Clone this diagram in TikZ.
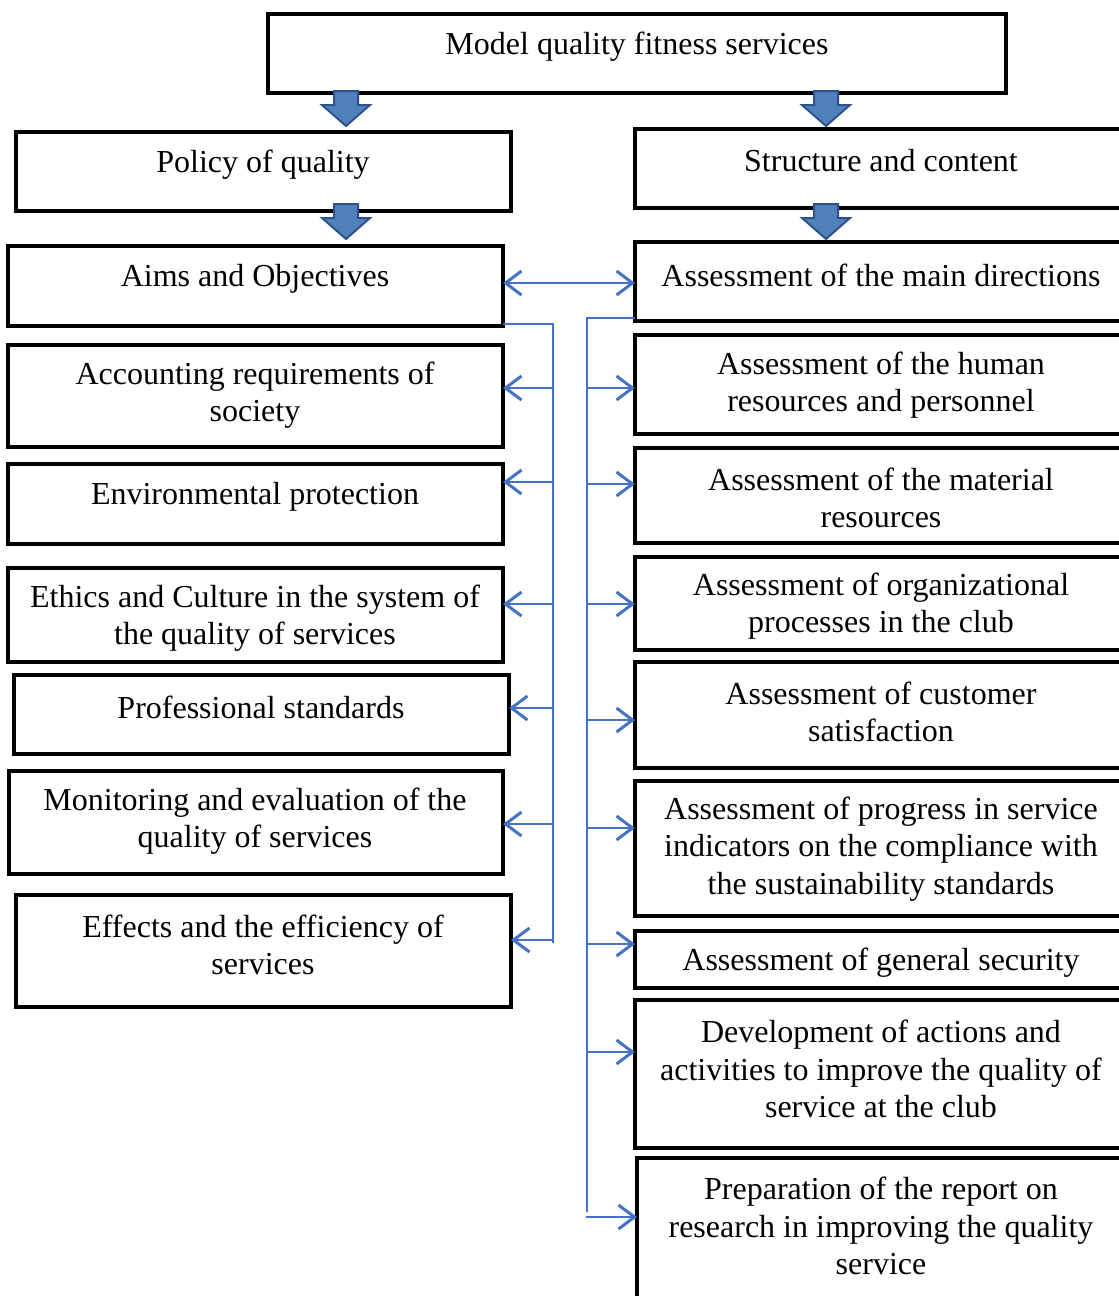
\documentclass[tikz,border=0pt]{standalone}
\usepackage{fontspec}
\setmainfont{Liberation Serif}
\usetikzlibrary{arrows.meta}
\definecolor{conn}{RGB}{68,114,196}
\definecolor{bafill}{RGB}{79,129,189}
\definecolor{baedge}{RGB}{47,82,143}
\tikzset{
  box/.style={draw=black, line width=4.5pt, inner sep=0pt, outer sep=0pt},
  txt/.style={align=center, font=\fontsize{32}{37.5}\selectfont, inner sep=0pt},
  link/.style={draw=conn, line width=2.5pt},
  barb/.style={Straight Barb[length=16pt,width=24pt,line width=3pt]},
  linkarrow/.style={draw=conn, line width=2.6pt, -{Straight Barb[length=16pt,width=24pt,line width=3pt]}},
  dblarrow/.style={draw=conn, line width=2.6pt, {Straight Barb[length=16pt,width=24pt,line width=3pt]}-{Straight Barb[length=16pt,width=24pt,line width=3pt]}},
  downarrow/.pic={
    \path[fill=bafill, draw=baedge, line width=2pt, line join=miter]
      (-12,0) -- (12,0) -- (12,14) -- (24,14) -- (0,35) -- (-24,14) -- (-12,14) -- cycle;
  }
}
\newcommand{\mkbox}[5]{% name, x1, y1, x2, y2
  \node[box, minimum width={(#4-#2)*1pt}, minimum height={(#5-#3)*1pt}, anchor=north west] (#1) at (#2,#3) {};}
\begin{document}
\begin{tikzpicture}[x=1pt, y=-1pt]
\useasboundingbox[fill=white] (0,0) rectangle (1119,1296);

% boxes
\mkbox{top}{268}{14}{1006}{93}
\mkbox{policy}{16}{132}{511}{211}
\mkbox{struct}{635}{129}{1130}{208}
\mkbox{aims}{8}{246}{503}{326}
\mkbox{acc}{8}{345}{503}{447}
\mkbox{env}{8}{464}{503}{544}
\mkbox{eth}{8}{568}{503}{662}
\mkbox{prof}{14}{675}{509}{754}
\mkbox{mon}{9}{771}{503}{874}
\mkbox{eff}{16}{895}{511}{1007}
\mkbox{r1}{635}{242}{1130}{321}
\mkbox{r2}{635}{335}{1130}{434}
\mkbox{r3}{635}{448}{1130}{543}
\mkbox{r4}{635}{557}{1130}{650}
\mkbox{r5}{635}{662}{1130}{768}
\mkbox{r6}{635}{781}{1130}{916}
\mkbox{r7}{635}{931}{1130}{988}
\mkbox{r8}{635}{1000}{1130}{1148}
\mkbox{r9}{637}{1158}{1130}{1320}

% texts
\node[txt] (ttop) at (637,47) {Model quality fitness services};
\node[txt] (tpolicy) at (263,165) {Policy of quality};
\node[txt] (tstruct) at (881,161) {Structure and content};
\node[txt] (taims) at (255,279) {Aims and Objectives};
\node[txt] (tacc) at (255,395) {Accounting requirements of\\society};
\node[txt] (tenv) at (255,497) {Environmental protection};
\node[txt] (teth) at (255,618) {Ethics and Culture in the system of\\the quality of services};
\node[txt] (tprof) at (261,707) {Professional standards};
\node[txt] (tmon) at (255,821) {Monitoring and evaluation of the\\quality of services};
\node[txt] (teff) at (263,945) {Effects and the efficiency of\\services};
\node[txt] (tr1) at (881,275) {Assessment of the main directions};
\node[txt] (tr2) at (881,385) {Assessment of the human\\resources and personnel};
\node[txt] (tr3) at (881,498) {Assessment of the material\\resources};
\node[txt] (tr4) at (881,606) {Assessment of organizational\\processes in the club};
\node[txt] (tr5) at (881,712) {Assessment of customer\\satisfaction};
\node[txt] (tr6) at (881,849) {Assessment of progress in service\\indicators on the compliance with\\the sustainability standards};
\node[txt] (tr7) at (881,963) {Assessment of general security};
\node[txt] (tr8) at (881,1069) {Development of actions and\\activities to improve the quality of\\service at the club};
\node[txt] (tr9) at (881,1226) {Preparation of the report on\\research in improving the quality\\service};

% block arrows
\pic at (346,91) {downarrow};
\pic at (826,91) {downarrow};
\pic at (346,204) {downarrow};
\pic at (826,204) {downarrow};

% double arrow
\coordinate (da) at (0,283);
\draw[dblarrow] (da -| aims.east) -- (da -| r1.west);

% left bus
\coordinate (lb0) at (553,324);
\coordinate (lb1) at (553,943);
\draw[link] (lb0 -| aims.east) -- (lb0) -- (lb1);
\foreach \yy/\nm in {388/acc, 482/env, 604/eth, 708/prof, 824/mon, 940/eff}{
  \coordinate (lp) at (553,\yy);
  \draw[linkarrow] (lp) -- (lp -| \nm.east);
}

% right bus
\coordinate (rb0) at (587,318);
\coordinate (rb1) at (587,1212);
\draw[link] (rb0 -| r1.west) -- (rb0) -- (rb1);
\foreach \yy/\nm in {388/r2, 484/r3, 604/r4, 720/r5, 828/r6, 944/r7, 1052/r8, 1217/r9}{
  \coordinate (rp) at (586,\yy);
  \draw[linkarrow] (rp) -- (rp -| \nm.west);
}
\end{tikzpicture}
\end{document}
